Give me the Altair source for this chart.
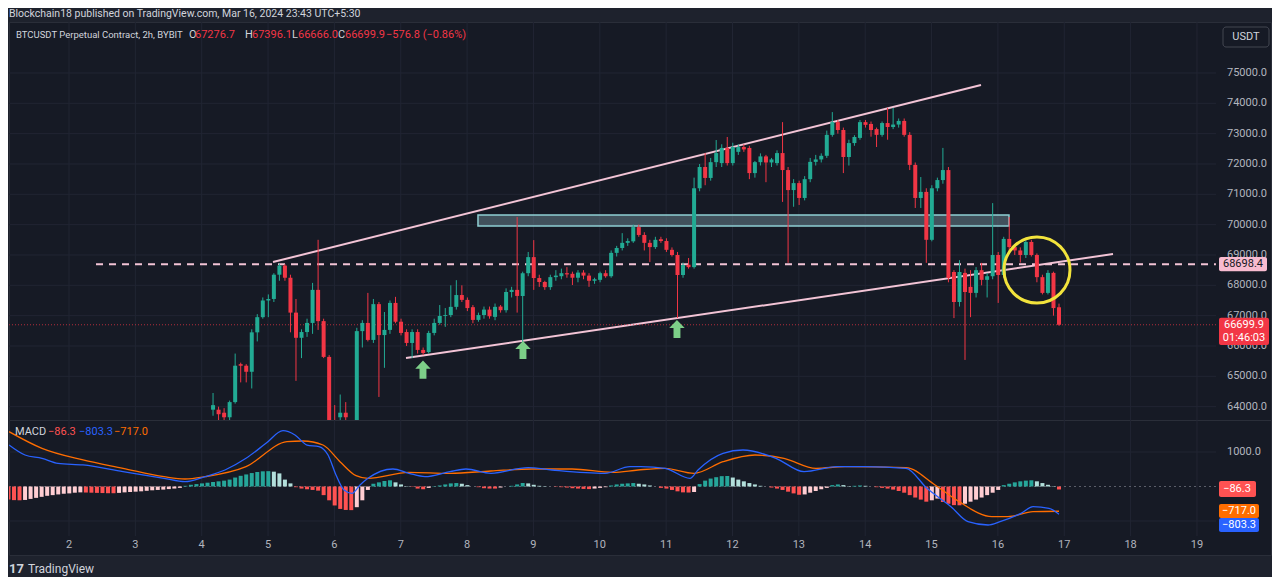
import altair as alt
import numpy as np
import pandas as pd

# ---------------- data ----------------
OPEN = [63900,63900,63800,63650,64150,65400,65350,65150,66450,66950,
        67500,67550,68350,68650,68250,67100,66270,66460,66760,67850,
        66820,65640,63300,63650,63800,63450,63100,66490,66760,66200,
        67380,66360,66530,67420,66800,66460,66100,66460,65870,65800,
        66430,66760,66990,67020,67290,67680,67520,67280,66860,67020,
        67200,66960,67300,67180,67780,67850,67650,68400,68930,68240,
        68110,67940,68270,68300,68400,68380,68250,68420,68320,68150,
        68180,68400,68300,69070,69230,69400,69450,69920,69660,69400,
        69260,69520,69460,69170,69000,68340,68680,68600,71200,71900,
        71540,72060,72030,72530,72030,72400,72560,72530,71700,72060,
        72250,72050,72030,72360,71800,71140,71370,70880,71500,72070,
        72150,72270,72960,73380,73120,72230,72690,72860,73380,73320,
        73150,72960,73350,73220,73300,73420,72960,71970,70880,71080,
        69500,71200,71470,71800,68440,67450,68410,67950,67750,68500,
        68180,68300,69000,68340,69530,69260,69150,69000,69430,69000,
        68270,67750,68410,67276.7]
HIGH = [64450,64000,63950,64200,65750,65450,65400,66550,67050,67600,
        67700,68400,68720,68700,68350,67550,66550,66900,68080,69500,
        66900,65700,64050,64400,64150,63500,66600,66850,67750,67550,
        67450,67120,67500,67620,66900,66550,66550,66550,65950,66500,
        66900,67350,67250,68000,68170,68000,67600,67350,67100,67300,
        67300,67400,67350,67900,67950,70250,68450,69100,69490,68350,
        68150,68350,68500,68550,68600,68450,68500,68500,68400,68250,
        68450,68500,69150,69300,69720,69550,70000,70000,69750,69500,
        69600,69600,69550,69250,69100,68750,68900,71550,72000,72360,
        72200,72790,72650,72890,72700,72650,72650,72600,72100,72350,
        72300,72200,72450,73380,71900,71500,71450,71600,72200,72300,
        72350,73100,73710,73450,73200,72800,72950,73450,73450,73400,
        73200,73400,73850,73850,73500,73500,73050,72050,71570,71200,
        71300,71550,72530,71900,68500,68830,68550,68500,68600,68740,
        68400,70710,69100,69600,70250,69350,69250,69500,69500,69050,
        68350,68500,68450,67396.1]
LOW = [63700,63500,63500,63500,64100,64800,64800,64600,66150,66900,
       66950,67450,68150,68150,66450,64850,65600,66300,66400,66530,
       65600,63200,63000,63550,63500,62800,63000,65950,66150,66100,
       64320,65280,66400,66750,66350,66000,65600,65750,65700,65750,
       66350,66700,66630,66950,67200,67450,67150,66750,66800,66900,
       66900,66850,67100,67100,67600,67100,66100,68300,67850,67950,
       67850,67850,68150,68200,68250,68010,68100,68200,67950,68050,
       68100,68250,68250,68950,69150,69300,69400,69600,69150,68770,
       69200,69400,69100,68950,66920,68250,68550,68550,71100,71300,
       71450,71900,71900,71950,71950,72300,72400,71500,71550,71950,
       71400,71900,71950,70750,68740,70590,70650,70800,71400,71950,
       72050,72200,72900,73000,71700,71950,72600,72800,73200,72900,
       72560,72900,72800,73150,73200,72900,71800,70550,70550,68740,
       69450,71100,71350,68100,66920,67300,65540,66950,67600,68000,
       67600,68200,67420,68250,69150,69000,68750,68900,68950,68100,
       67700,67700,67000,66666.0]
CLOSE = [64050,63750,63650,64150,65350,65350,65150,66450,66950,67500,
         67550,68350,68650,68250,67100,66270,66460,66760,67850,66820,
         65640,63300,63100,63800,63650,63100,66490,66760,66200,67380,
         66360,66530,67420,66800,66430,66100,66460,65870,65770,66430,
         66760,66990,67020,67290,67680,67520,67250,66860,67020,67200,
         66980,67290,67180,67780,67850,67650,68400,68930,68240,68110,
         67940,68270,68320,68400,68360,68250,68420,68320,68150,68200,
         68400,68300,69070,69230,69400,69460,69920,69660,69400,69260,
         69500,69460,69170,69000,68340,68670,68600,71200,71900,71540,
         72060,72360,72530,72030,72560,72560,72480,71700,72060,72250,
         72050,72150,72360,71800,71140,71370,70880,71500,72070,72150,
         72270,72960,73380,73120,72230,72690,72890,73380,73290,73120,
         72960,73350,73220,73300,73420,72960,71970,70880,71080,69500,
         71200,71470,71800,68240,67450,68440,67780,67750,68500,68180,
         68300,69000,68340,69530,69260,69150,69000,69430,69000,68270,
         67750,68410,67250,66699.9]

HIST = [-380,-395,-400,-390,-360,-330,-300,-270,-250,-230,
        -210,-200,-180,-170,-175,-180,-185,-190,-195,-195,
        -185,-170,-160,-150,-140,-125,-110,-100,-90,-75,
        -60,-40,20,50,70,90,110,130,150,170,
        200,260,310,350,390,420,440,445,430,380,
        200,90,-20,-60,-80,-100,-120,-250,-400,-550,
        -650,-680,-685,-600,-400,-100,80,120,160,180,
        120,60,10,-10,-60,-80,-40,10,30,60,
        90,100,80,40,0,-20,-50,-60,-60,-30,
        0,20,60,100,90,50,20,10,0,-10,
        -20,-30,-50,-60,-70,-75,-60,-40,-20,30,
        60,80,90,100,80,60,30,0,-40,-60,
        -100,-140,-170,-175,-160,70,170,230,270,300,
        305,260,200,150,100,60,20,0,-30,-60,
        -100,-150,-200,-240,-230,-180,-130,-80,-40,40,
        60,40,10,20,30,20,0,-20,-40,-60,
        -90,-130,-180,-250,-320,-380,-440,-400,-350,-450,
        -500,-540,-545,-500,-440,-380,-320,-250,-180,-100,
        40,80,120,150,170,180,150,100,50,10,
        -86.3]

MACD_DAY = [1.096,1.337,1.593,1.834,2.211,2.814,3.432,3.748,4.050,4.351,
            4.668,4.969,5.225,5.406,5.587,5.768,5.904,6.024,6.145,6.265,
            6.386,6.506,6.883,7.124,7.365,7.742,7.983,8.360,8.918,9.280,
            10.078,10.455,10.621,10.983,11.359,11.480,11.857,12.158,12.656,13.078,
            13.575,13.997,14.615,14.931,15.293,15.549,15.851,16.032,16.348,16.529,
            16.770,16.921]
MACD_VAL = [1203,913,817,672,624,430,237,140,285,479,
            817,1252,1619,1494,1203,1155,913,334,-101,-198,
            44,237,508,382,285,430,508,382,547,479,
            382,576,575,527,237,479,962,1058,817,430,
            575,575,527,-53,-585,-1019,-1116,-1019,-778,-585,
            -633,-803.3]
SIGNAL_DAY = [1.096,1.593,2.211,2.814,3.432,3.748,4.050,4.668,5.286,5.527,
              5.828,6.084,6.326,6.506,7.124,7.742,8.360,8.978,9.581,10.199,
              10.576,10.983,11.420,11.857,12.339,12.776,13.258,13.696,14.615,15.052,
              15.414,15.911,16.152,16.529,16.921]
SIGNAL_VAL = [1590,1106,769,527,285,218,285,576,1300,1319,
              1203,720,314,237,411,382,450,508,508,411,
              479,527,382,720,913,817,527,576,547,44,
              -440,-875,-875,-730,-717.0]

PRICE_TICKS = list(range(64000, 75001, 1000))
DAY_TICKS = list(range(2, 20))
LAST_BAR_DAY = 16.921
BARS_PER_DAY = 12

UPPER_LINE = dict(x=5.075, y=68768, x2=15.745, y2=74604)
LOWER_LINE = dict(x=7.079, y=65603, x2=17.735, y2=69032)
ZONE = dict(x=8.164, x2=16.167, y=69955, y2=70318)
LEVEL = 68698.4
LEVEL_START = 2.407
LAST_PRICE = 66699.9
ARROW_DAY = [7.335, 8.842, 11.163]
ARROW_PRICE = [65220, 65867, 66560]
CIRCLE_DAY, CIRCLE_PRICE = 16.589, 68505

# ---------------- styling ----------------
FONT = "Roboto"
CHROME = "#1e222d"
PANE = "#161a25"
GRID = "#212533"
FRAME = "#2a2e39"
TXT = "#d1d4dc"
AXT = "#b2b5be"
UP = "#22ab94"
DOWN = "#f23645"
TREND = "#f3c4d6"
ARROWC = "#7ccf88"
YELLOW = "#f2e33c"
MACDC = "#2962ff"
SIGC = "#ff6d00"
H_GS, H_GL, H_RS, H_RL = "#26a69a", "#b2dfdb", "#ff5252", "#ffcdd2"

W, H1, H2 = 1262, 398, 135
X_DOM = [1.0957, 20.116]
PLOT_END = 19.286
PLOT_END_PX = 1207
Y_DOM = [63560, 76681]
M_DOM = [-1986, 1928]

XS = alt.Scale(domain=X_DOM, nice=False, zero=False, padding=0)
YS = alt.Scale(domain=Y_DOM, nice=False, zero=False, padding=0)
MS = alt.Scale(domain=M_DOM, nice=False, zero=False, padding=0)
ONE = pd.DataFrame({"k": [0]})


def xq(f):
    return alt.X(f, scale=XS, axis=None)


def yq(f, s=YS):
    return alt.Y(f, scale=s, axis=None)


def txt(s, x, y, color, size=11, align="left", weight="normal", baseline="middle"):
    return alt.Chart(ONE).mark_text(text=s, align=align, baseline=baseline, color=color,
                                    fontSize=size, fontWeight=weight, font=FONT).encode(
        x=alt.value(x), y=alt.value(y))


def box(x, x2, y, y2, **kw):
    return alt.Chart(ONE).mark_rect(**kw).encode(
        x=alt.value(x), x2=alt.value(x2), y=alt.value(y), y2=alt.value(y2))


# ---------------- frames ----------------
n = len(OPEN)
t = LAST_BAR_DAY - (n - 1 - np.arange(n)) / BARS_PER_DAY
cdf = pd.DataFrame(dict(t=t, o=OPEN, h=HIGH, l=LOW, c=CLOSE))
cdf["lo"] = cdf[["l", "o", "c"]].min(axis=1)
cdf["hi"] = cdf[["h", "o", "c"]].max(axis=1)
cdf["col"] = np.where(cdf["c"] >= cdf["o"], UP, DOWN)

m = len(HIST)
th = LAST_BAR_DAY - (m - 1 - np.arange(m)) / BARS_PER_DAY
cols = []
for i, v in enumerate(HIST):
    prev = HIST[i - 1] if i > 0 else v
    if v >= 0:
        cols.append(H_GS if v >= prev else H_GL)
    else:
        cols.append(H_RS if v <= prev else H_RL)
hdf = pd.DataFrame(dict(t=th, v=HIST, z=0.0, col=cols))

mdf = pd.DataFrame(dict(t=MACD_DAY, v=MACD_VAL))
sdf = pd.DataFrame(dict(t=SIGNAL_DAY, v=SIGNAL_VAL))
pdf = pd.DataFrame(dict(p=PRICE_TICKS))
ddf = pd.DataFrame(dict(d=DAY_TICKS))
adf = pd.DataFrame(dict(t=ARROW_DAY, p=ARROW_PRICE))
ldf = pd.DataFrame([UPPER_LINE, LOWER_LINE])
zdf = pd.DataFrame([ZONE])
circ = pd.DataFrame(dict(t=[CIRCLE_DAY], p=[CIRCLE_PRICE]))

colr = alt.Color("col:N", scale=None, legend=None)

# ---------------- main pane ----------------
main_layers = [
    alt.Chart(pdf).mark_rule(color=GRID, strokeWidth=1).encode(
        y=yq("p:Q"), x=alt.value(0), x2=alt.value(PLOT_END_PX)),
    alt.Chart(ddf).mark_rule(color=GRID, strokeWidth=1).encode(x=xq("d:Q")),
    alt.Chart(zdf).mark_rect(fill="#6b8793", fillOpacity=0.5, stroke="#8fd0d4", strokeWidth=1.5).encode(
        x=xq("x:Q"), x2="x2:Q", y=yq("y:Q"), y2="y2:Q"),
    alt.Chart(ldf).mark_rule(color=TREND, strokeWidth=2).encode(
        x=xq("x:Q"), x2="x2:Q", y=yq("y:Q"), y2="y2:Q"),
    alt.Chart(ONE).mark_rule(color=TREND, strokeWidth=2, strokeDash=[7, 6]).encode(
        x=alt.XDatum(LEVEL_START, scale=XS, axis=None), x2=alt.X2Datum(PLOT_END),
        y=alt.YDatum(LEVEL, scale=YS, axis=None)),
    alt.Chart(ONE).mark_rule(color=DOWN, strokeWidth=1, strokeDash=[1, 2], opacity=0.7).encode(
        x=alt.value(0), x2=alt.value(PLOT_END_PX), y=alt.YDatum(LAST_PRICE, scale=YS, axis=None)),
    alt.Chart(cdf).mark_rule(strokeWidth=1, clip=True).encode(
        x=xq("t:Q"), y=yq("lo:Q"), y2="hi:Q", color=colr),
    alt.Chart(cdf).mark_bar(size=4, clip=True).encode(
        x=xq("t:Q"), y=yq("o:Q"), y2="c:Q", color=colr),
    alt.Chart(adf).mark_point(shape="M0,-1L0.85,-0.1L0.38,-0.1L0.38,1L-0.38,1L-0.38,-0.1L-0.85,-0.1Z",
                              size=330, filled=True, color=ARROWC, opacity=1).encode(
        x=xq("t:Q"), y=yq("p:Q")),
    alt.Chart(circ).mark_point(shape="circle", size=4356, filled=False, color=YELLOW,
                               strokeWidth=3, opacity=1).encode(x=xq("t:Q"), y=yq("p:Q")),
    # price scale labels
    alt.Chart(pdf).mark_text(align="left", baseline="middle", color=AXT, fontSize=11, font=FONT).encode(
        y=yq("p:Q"), x=alt.value(1218), text=alt.Text("p:Q", format=".1f")),
    # level tag
    alt.Chart(ONE).mark_rect(fill="#f8bbd0", cornerRadius=2).encode(
        x=alt.value(1210), x2=alt.value(1258),
        y=alt.YDatum(LEVEL + 235, scale=YS, axis=None), y2=alt.Y2Datum(LEVEL - 235)),
    alt.Chart(ONE).mark_text(text="68698.4", align="center", baseline="middle", color="#131722",
                             fontSize=11, font=FONT).encode(
        x=alt.value(1234), y=alt.YDatum(LEVEL, scale=YS, axis=None)),
    # last price tag
    alt.Chart(ONE).mark_rect(fill=DOWN, cornerRadius=2).encode(
        x=alt.value(1210), x2=alt.value(1260),
        y=alt.YDatum(LAST_PRICE + 230, scale=YS, axis=None), y2=alt.Y2Datum(LAST_PRICE - 670)),
    alt.Chart(ONE).mark_text(text="66699.9", align="center", baseline="middle", color="#ffffff",
                             fontSize=11, font=FONT).encode(
        x=alt.value(1235), y=alt.YDatum(LAST_PRICE, scale=YS, axis=None)),
    alt.Chart(ONE).mark_text(text="01:46:03", align="center", baseline="middle", color="#ffffff",
                             fontSize=11, font=FONT, dy=13).encode(
        x=alt.value(1235), y=alt.YDatum(LAST_PRICE, scale=YS, axis=None)),
    # USDT box
    box(1214, 1260, 5, 25, fill=PANE, stroke="#434651", strokeWidth=1, cornerRadius=3),
    txt("USDT", 1237, 15, TXT, size=11, align="center"),
    # titles
    txt("Blockchain18 published on TradingView.com, Mar 16, 2024 23:43 UTC+5:30", 0, -8, TXT, size=10.5),
    txt("BTCUSDT Perpetual Contract, 2h, BYBIT", 7, 13, TXT, size=9.5),
    txt("O", 180, 13, TXT, size=11), txt("67276.7", 186, 13, DOWN, size=11),
    txt("H", 236, 13, TXT, size=11), txt("67396.1", 243, 13, DOWN, size=11),
    txt("L", 283, 13, TXT, size=11), txt("66666.0", 289, 13, DOWN, size=11),
    txt("C", 329, 13, TXT, size=11), txt("66699.9", 336, 13, DOWN, size=11),
    txt("\u2212576.8 (\u22120.86%)", 377, 13, DOWN, size=11),
]
main = alt.layer(*main_layers).properties(width=W, height=H1)

# ---------------- MACD pane ----------------
macd_layers = [
    alt.Chart(ddf).mark_rule(color=GRID, strokeWidth=1).encode(
        x=xq("d:Q"), y=alt.value(0), y2=alt.value(116)),
    alt.Chart(pd.DataFrame(dict(v=[1000, -1000]))).mark_rule(color=GRID, strokeWidth=1).encode(
        y=yq("v:Q", MS), x=alt.value(0), x2=alt.value(PLOT_END_PX)),
    alt.Chart(ONE).mark_rule(color="#5d606b", strokeWidth=1, strokeDash=[2, 3]).encode(
        y=alt.YDatum(0, scale=MS, axis=None), x=alt.value(0), x2=alt.value(PLOT_END_PX)),
    alt.Chart(hdf).mark_bar(size=4, clip=True).encode(
        x=xq("t:Q"), y=yq("v:Q", MS), y2="z:Q", color=colr),
    alt.Chart(sdf).mark_line(color=SIGC, strokeWidth=1.3, interpolate="monotone", clip=True).encode(
        x=xq("t:Q"), y=yq("v:Q", MS)),
    alt.Chart(mdf).mark_line(color=MACDC, strokeWidth=1.3, interpolate="monotone", clip=True).encode(
        x=xq("t:Q"), y=yq("v:Q", MS)),
    txt("MACD", 6, 12, TXT, size=11),
    txt("\u221286.3", 39, 12, H_RS, size=11),
    txt("\u2212803.3", 70, 12, MACDC, size=11),
    txt("\u2212717.0", 105, 12, SIGC, size=11),
    alt.Chart(ONE).mark_text(text="1000.0", align="left", baseline="middle", color=AXT,
                             fontSize=11, font=FONT).encode(
        x=alt.value(1218), y=alt.YDatum(1000, scale=MS, axis=None)),
    box(1210, 1247, 61, 77, fill=H_RS, cornerRadius=2),
    txt("\u221286.3", 1228, 69, "#ffffff", size=11, align="center"),
    box(1210, 1250, 84, 98, fill=SIGC, cornerRadius=2),
    txt("\u2212717.0", 1230, 91, "#ffffff", size=11, align="center"),
    box(1210, 1250, 98, 112, fill=MACDC, cornerRadius=2),
    txt("\u2212803.3", 1230, 105, "#ffffff", size=11, align="center"),
    alt.Chart(ddf).mark_text(align="center", baseline="middle", color=AXT, fontSize=11, font=FONT).encode(
        x=xq("d:Q"), y=alt.value(125), text="d:Q"),
    txt("17", 0, 149, TXT, size=13, weight="bold"),
    txt("TradingView", 19, 149, TXT, size=12),
]
macd = alt.layer(*macd_layers).properties(width=W, height=H2)

chart = alt.vconcat(main, macd, spacing=0, bounds="flush").properties(
    padding=0,
    background=CHROME,
).configure_view(stroke=FRAME, fill=PANE)

chart.save("out.html", embed_options={"renderer": "svg", "actions": False})
